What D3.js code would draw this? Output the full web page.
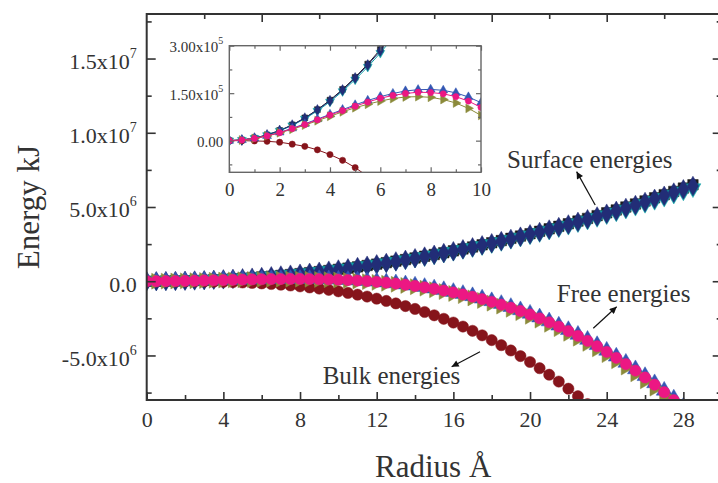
<!DOCTYPE html>
<html>
<head>
<meta charset="utf-8">
<script src="https://cdn.jsdelivr.net/npm/d3@7/dist/d3.min.js"></script>
<style>
  body { margin: 0; background: #fff; }
  svg text { font-family: "Liberation Serif", "Times New Roman", serif; fill: #333; }
</style>
</head>
<body>
<div id="container"></div>
<script>
// Radius (Å) of every sample.
const radius = [0, 0.5, 1, 1.5, 2, 2.5, 3, 3.5, 4, 4.5, 5, 5.5, 6, 6.5, 7, 7.5, 8, 8.5, 9, 9.5,
  10, 10.5, 11, 11.5, 12, 12.5, 13, 13.5, 14, 14.5, 15, 15.5, 16, 16.5, 17, 17.5, 18, 18.5, 19, 19.5,
  20, 20.5, 21, 21.5, 22, 22.5, 23, 23.5, 24, 24.5, 25, 25.5, 26, 26.5, 27, 27.5, 28, 28.5];

// Energies, in 10^3 kJ.
const surfaceBlack = [0, 2, 8, 18, 32, 50, 72, 98, 128, 162, 200, 242, 288, 338, 392, 450, 512, 578, 648, 722,
  800, 882, 968, 1058, 1152, 1250, 1352, 1458, 1568, 1682, 1800, 1922, 2048, 2178, 2312, 2450, 2592, 2738, 2888, 3042,
  3200, 3362, 3528, 3698, 3872, 4050, 4232, 4418, 4608, 4802, 5000, 5202, 5408, 5618, 5832, 6050, 6272, 6498];
const surfaceNavy = [0, 2, 8, 18, 32, 49, 71, 97, 126, 160, 198, 239, 284, 334, 387, 444, 506, 571, 640, 713,
  790, 871, 956, 1045, 1138, 1234, 1335, 1440, 1548, 1661, 1778, 1898, 2022, 2151, 2283, 2419, 2560, 2704, 2852, 3004,
  3160, 3320, 3484, 3652, 3824, 3999, 4179, 4363, 4550, 4742, 4938, 5137, 5340, 5548, 5759, 5974, 6194, 6417];
const surfaceTeal = [0, 2, 8, 17, 31, 48, 69, 94, 123, 156, 193, 233, 277, 325, 377, 433, 493, 556, 624, 695,
  770, 849, 932, 1018, 1109, 1203, 1301, 1403, 1509, 1619, 1733, 1850, 1971, 2096, 2225, 2358, 2495, 2635, 2780, 2928,
  3080, 3236, 3396, 3559, 3727, 3898, 4073, 4252, 4435, 4622, 4813, 5007, 5205, 5407, 5613, 5823, 6037, 6254];

const bulkRed = [0, 0, -1, -2, -5, -11, -18, -29, -44, -62, -85, -113, -147, -187, -233, -287, -348, -418, -496, -583,
  -680, -787, -905, -1034, -1175, -1328, -1494, -1673, -1866, -2073, -2295, -2532, -2785, -3055, -3341, -3644, -3966, -4306, -4664, -5042,
  -5440, -5858, -6298, -6758, -7241, -7746, -8274, -8825, -9400];

const freeBlue = [0, 2, 7, 15, 26, 39, 53, 68, 83, 98, 113, 127, 139, 149, 157, 161, 162, 159, 151, 138,
  120, 96, 65, 27, -19, -72, -134, -205, -286, -377, -478, -590, -714, -850, -998, -1160, -1335, -1524, -1727, -1946,
  -2180, -2430, -2697, -2980, -3282, -3601, -3938, -4295, -4671, -5068, -5484, -5922, -6381, -6863, -7367, -7893, -8444];
const freePink = [0, 2, 7, 15, 25, 38, 51, 66, 81, 95, 109, 122, 134, 143, 149, 153, 152, 148, 139, 125,
  105, 79, 47, 7, -40, -96, -160, -233, -316, -408, -512, -626, -753, -891, -1042, -1206, -1383, -1575, -1782, -2003,
  -2240, -2493, -2763, -3050, -3354, -3677, -4018, -4378, -4758, -5158, -5578, -6020, -6483, -6968, -7476, -8007, -8561];
const freeOlive = [0, 2, 7, 15, 25, 36, 49, 63, 77, 91, 104, 115, 125, 133, 138, 139, 137, 130, 119, 102,
  80, 51, 16, -27, -78, -137, -204, -282, -369, -466, -574, -693, -824, -968, -1124, -1294, -1477, -1675, -1888, -2116,
  -2360, -2620, -2897, -3192, -3504, -3835, -4184, -4553, -4942, -5351, -5781, -6233, -6706, -7202, -7720, -8262];

// Ticks.
const xMajor = [0, 4, 8, 12, 16, 20, 24, 28];
const xMinor = [2, 6, 10, 14, 18, 22, 26];
const xTopMajor = [6, 12, 18, 24];
const xTopMinor = [3, 9, 15, 21, 27];
const yMajor = [-5e6, 0, 5e6, 1e7, 1.5e7];
const yMinor = [-7.5e6, -2.5e6, 2.5e6, 7.5e6, 1.25e7, 1.75e7];
const insetXMajor = [0, 2, 4, 6, 8, 10];
const insetXMinor = [1, 3, 5, 7, 9];
const insetYMajor = [0, 1.5e5, 3e5];
const insetYMinor = [-0.75e5, 0.75e5, 2.25e5];

// Labels on the curves: [text, x (Å), y (kJ)], arrows from tail to head.
const labels = [
  ['Surface energies', 18.8, 7.62e6],
  ['Free energies', 21.4, -1.38e6],
  ['Bulk energies', 9.18, -6.92e6]
];
const arrows = [
  [[23.4, 5.13e6], [22.43, 7.38e6]],
  [[23.3, -3.17e6], [24.52, -1.72e6]],
  [[17.39, -4.75e6], [15.91, -5.76e6]]
];

const series = [
  { values: surfaceBlack, color: '#1b1b1b', shape: d3.symbolSquare, rot: 0 },
  { values: surfaceTeal, color: '#12a0a6', shape: d3.symbolTriangle, rot: 180 },
  { values: surfaceNavy, color: '#222d77', shape: d3.symbolDiamond, rot: 0 },
  { values: bulkRed, color: '#86141b', shape: d3.symbolCircle, rot: 0 },
  { values: freeBlue, color: '#3357b3', shape: d3.symbolTriangle, rot: 0 },
  { values: freeOlive, color: '#8b8a3a', shape: d3.symbolTriangle, rot: 90 },
  { values: freePink, color: '#ec1783', shape: d3.symbolCircle, rot: 0 }
];

const W = 718, H = 483;
const svg = d3.select('#container').append('svg').attr('width', W).attr('height', H);

// Main plot frame.
const frame = { left: 146.7, right: 721.7, top: 14, bottom: 400 };
const x = d3.scaleLinear().domain([0, 30]).range([frame.left, frame.right]);
const y = d3.scaleLinear().domain([-8e6, 1.8e7]).range([frame.bottom, frame.top]);

const sciLabel = (v, digits) => {
  if (v === 0) return [(0).toFixed(digits), ''];
  const e = Math.floor(Math.log10(Math.abs(v)));
  return [(v / Math.pow(10, e)).toFixed(digits) + 'x10', String(e)];
};

function supText(sel, digits, supSize, supDy) {
  sel.each(function (v) {
    const [base, exp] = sciLabel(v, digits);
    const t = d3.select(this).text(null);
    t.append('tspan').text(base);
    if (exp) t.append('tspan').attr('font-size', supSize).attr('dy', supDy).text(exp);
  });
}

function drawSeries(g, sx, sy, markSize, lineWidth) {
  series.forEach(s => {
    const pts = s.values.map((v, i) => [radius[i], v * 1e3]);
    g.append('path')
      .datum(pts)
      .attr('fill', 'none')
      .attr('stroke', s.color)
      .attr('stroke-width', lineWidth)
      .attr('d', d3.line().x(d => sx(d[0])).y(d => sy(d[1])));
    const sym = d3.symbol().type(s.shape).size(s.shape === d3.symbolCircle ? markSize * 0.9 : markSize);
    g.append('g')
      .selectAll('path')
      .data(pts)
      .enter()
      .append('path')
      .attr('d', sym)
      .attr('transform', d => `translate(${sx(d[0])} ${sy(d[1])}) rotate(${s.rot})`)
      .attr('fill', s.color)
      .attr('stroke', s.color)
      .attr('stroke-width', 0.5);
  });
}

svg.append('clipPath').attr('id', 'clipMain')
  .append('rect')
  .attr('x', frame.left).attr('y', frame.top)
  .attr('width', frame.right - frame.left).attr('height', frame.bottom - frame.top);

drawSeries(svg.append('g').attr('clip-path', 'url(#clipMain)'), x, y, 110, 1);

// Axes (ticks point inward).
const axisColor = '#333';
function styleAxis(g) {
  g.select('.domain').remove();
  g.selectAll('line').attr('stroke', axisColor).attr('stroke-width', 1.6);
}

const gx = svg.append('g').attr('transform', `translate(0,${frame.bottom})`)
  .call(d3.axisBottom(x).tickValues(xMajor).tickSize(-8).tickPadding(11).tickFormat(d3.format('d')))
  .call(styleAxis);
gx.selectAll('text').attr('font-size', 22).attr('fill', '#333');
svg.append('g').attr('transform', `translate(0,${frame.bottom})`)
  .call(d3.axisBottom(x).tickValues(xMinor).tickSize(-5).tickFormat(''))
  .call(styleAxis);
svg.append('g').attr('transform', `translate(0,${frame.top})`)
  .call(d3.axisTop(x).tickValues(xTopMajor).tickSize(-8).tickFormat(''))
  .call(styleAxis);
svg.append('g').attr('transform', `translate(0,${frame.top})`)
  .call(d3.axisTop(x).tickValues(xTopMinor).tickSize(-5).tickFormat(''))
  .call(styleAxis);

const gy = svg.append('g').attr('transform', `translate(${frame.left},0)`)
  .call(d3.axisLeft(y).tickValues(yMajor).tickSize(-9).tickPadding(10))
  .call(styleAxis);
gy.selectAll('text').attr('font-size', 22).attr('dy', '0.45em').attr('fill', '#333')
  .call(supText, 1, 14, -11);
svg.append('g').attr('transform', `translate(${frame.left},0)`)
  .call(d3.axisLeft(y).tickValues(yMinor).tickSize(-5).tickFormat(''))
  .call(styleAxis);
svg.append('g').attr('transform', `translate(${frame.right},0)`)
  .call(d3.axisRight(y).tickValues(yMajor).tickSize(-9).tickFormat(''))
  .call(styleAxis);
svg.append('g').attr('transform', `translate(${frame.right},0)`)
  .call(d3.axisRight(y).tickValues(yMinor).tickSize(-5).tickFormat(''))
  .call(styleAxis);

svg.append('rect')
  .attr('x', frame.left).attr('y', frame.top)
  .attr('width', frame.right - frame.left).attr('height', frame.bottom - frame.top)
  .attr('fill', 'none').attr('stroke', axisColor).attr('stroke-width', 2);

// Axis titles.
svg.append('text')
  .attr('x', (frame.left + frame.right) / 2 - 1).attr('y', 477)
  .attr('text-anchor', 'middle').attr('font-size', 31)
  .text('Radius Å');
svg.append('text')
  .attr('transform', `translate(39,${(frame.top + frame.bottom) / 2}) rotate(-90)`)
  .attr('text-anchor', 'middle').attr('font-size', 31)
  .text('Energy kJ');

// Curve labels and arrows.
svg.append('defs').append('marker')
  .attr('id', 'head').attr('viewBox', '0 0 10 10')
  .attr('refX', 10).attr('refY', 5)
  .attr('markerWidth', 9).attr('markerHeight', 7)
  .attr('markerUnits', 'userSpaceOnUse')
  .attr('orient', 'auto')
  .append('path').attr('d', 'M0,0L10,5L0,10z').attr('fill', '#111');

svg.append('g').selectAll('line')
  .data(arrows).enter().append('line')
  .attr('x1', d => x(d[0][0])).attr('y1', d => y(d[0][1]))
  .attr('x2', d => x(d[1][0])).attr('y2', d => y(d[1][1]))
  .attr('stroke', '#111').attr('stroke-width', 1.2)
  .attr('marker-end', 'url(#head)');

svg.append('g').selectAll('text')
  .data(labels).enter().append('text')
  .attr('x', d => x(d[1])).attr('y', d => y(d[2]))
  .attr('font-size', 25)
  .text(d => d[0]);

// Inset.
const inset = { left: 229.3, right: 481, top: 45.7, bottom: 172.3 };
const ix = d3.scaleLinear().domain([0, 10]).range([inset.left, inset.right]);
const iy = d3.scaleLinear().domain([-1e5, 3e5]).range([inset.bottom, inset.top]);

svg.append('rect')
  .attr('x', inset.left).attr('y', inset.top)
  .attr('width', inset.right - inset.left).attr('height', inset.bottom - inset.top)
  .attr('fill', '#fff');

svg.append('clipPath').attr('id', 'clipInset')
  .append('rect')
  .attr('x', inset.left).attr('y', inset.top)
  .attr('width', inset.right - inset.left).attr('height', inset.bottom - inset.top);

drawSeries(svg.append('g').attr('clip-path', 'url(#clipInset)'), ix, iy, 34, 1);

const insetColor = '#666';
function styleInset(g) {
  g.select('.domain').remove();
  g.selectAll('line').attr('stroke', insetColor).attr('stroke-width', 1.2);
}

const igx = svg.append('g').attr('transform', `translate(0,${inset.bottom})`)
  .call(d3.axisBottom(ix).tickValues(insetXMajor).tickSize(-5).tickPadding(10).tickFormat(d3.format('d')))
  .call(styleInset);
igx.selectAll('text').attr('font-size', 19).attr('fill', '#444');
svg.append('g').attr('transform', `translate(0,${inset.bottom})`)
  .call(d3.axisBottom(ix).tickValues(insetXMinor).tickSize(-3).tickFormat(''))
  .call(styleInset);
svg.append('g').attr('transform', `translate(0,${inset.top})`)
  .call(d3.axisTop(ix).tickValues(insetXMajor).tickSize(-5).tickFormat(''))
  .call(styleInset);
svg.append('g').attr('transform', `translate(0,${inset.top})`)
  .call(d3.axisTop(ix).tickValues(insetXMinor).tickSize(-3).tickFormat(''))
  .call(styleInset);

const igy = svg.append('g').attr('transform', `translate(${inset.left},0)`)
  .call(d3.axisLeft(iy).tickValues(insetYMajor).tickSize(-5).tickPadding(6))
  .call(styleInset);
igy.selectAll('text').attr('font-size', 15).attr('dy', '0.4em').attr('fill', '#444')
  .call(supText, 2, 10, -8);
svg.append('g').attr('transform', `translate(${inset.left},0)`)
  .call(d3.axisLeft(iy).tickValues(insetYMinor).tickSize(-3).tickFormat(''))
  .call(styleInset);
svg.append('g').attr('transform', `translate(${inset.right},0)`)
  .call(d3.axisRight(iy).tickValues(insetYMajor).tickSize(-5).tickFormat(''))
  .call(styleInset);
svg.append('g').attr('transform', `translate(${inset.right},0)`)
  .call(d3.axisRight(iy).tickValues(insetYMinor).tickSize(-3).tickFormat(''))
  .call(styleInset);

svg.append('rect')
  .attr('x', inset.left).attr('y', inset.top)
  .attr('width', inset.right - inset.left).attr('height', inset.bottom - inset.top)
  .attr('fill', 'none').attr('stroke', insetColor).attr('stroke-width', 1.4);
</script>
</body>
</html>
